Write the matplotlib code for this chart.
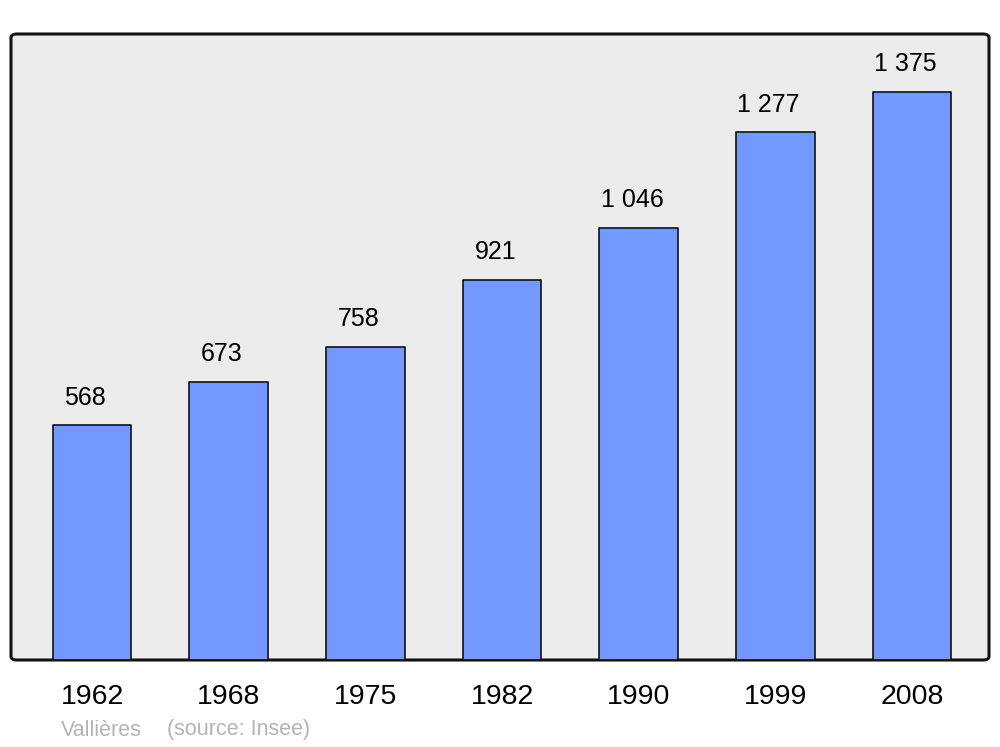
import matplotlib
matplotlib.use("Agg")
import matplotlib.pyplot as plt
from matplotlib.patches import FancyBboxPatch

years = ["1962", "1968", "1975", "1982", "1990", "1999", "2008"]
population = [568, 673, 758, 921, 1046, 1277, 1375]
value_labels = ["568", "673", "758", "921", "1 046", "1 277", "1 375"]
commune = "Vallières"
source = "(source: Insee)"

plt.rcParams['font.family'] = ['Liberation Sans', 'DejaVu Sans']

fig = plt.figure(figsize=(10, 7.47), dpi=100)
ax = fig.add_axes([0.011, 87/747, 0.978, 626/747])
ax.set_xlim(-0.593, 6.563)
ax.set_ylim(0, 1515.4)
ax.set_facecolor('none')
for s in ax.spines.values():
    s.set_visible(False)

# rounded frame
frame = FancyBboxPatch((0, 0), 1, 1, boxstyle="round,pad=0,rounding_size=0.006",
                       transform=ax.transAxes, facecolor='#ececec',
                       edgecolor='#111111', linewidth=2.2, zorder=0, clip_on=False)
ax.add_patch(frame)

x = list(range(len(years)))
bars = ax.bar(x, population, width=0.575, color='#7399ff', edgecolor='#111111',
              linewidth=1.2, zorder=2)
for b in bars:
    b.set_joinstyle('round')

for xi, v, lab in zip(x, population, value_labels):
    ax.annotate(lab, (xi, v), xytext=(-4.8, 20), textcoords='offset points',
                ha='center', va='center', fontsize=18, color='black')

ax.set_xticks(x)
ax.set_xticklabels(years, fontsize=20.5)
ax.tick_params(axis='x', length=0, pad=17)
ax.set_yticks([])

fig.text(0.061, 1 - 730/747, commune, fontsize=15.5, color='#b4b4b4', ha='left', va='center')
fig.text(0.167, 1 - 730/747, source, fontsize=15.5, color='#b4b4b4', ha='left', va='center')

fig.savefig('out.png', dpi=100, facecolor='white')
